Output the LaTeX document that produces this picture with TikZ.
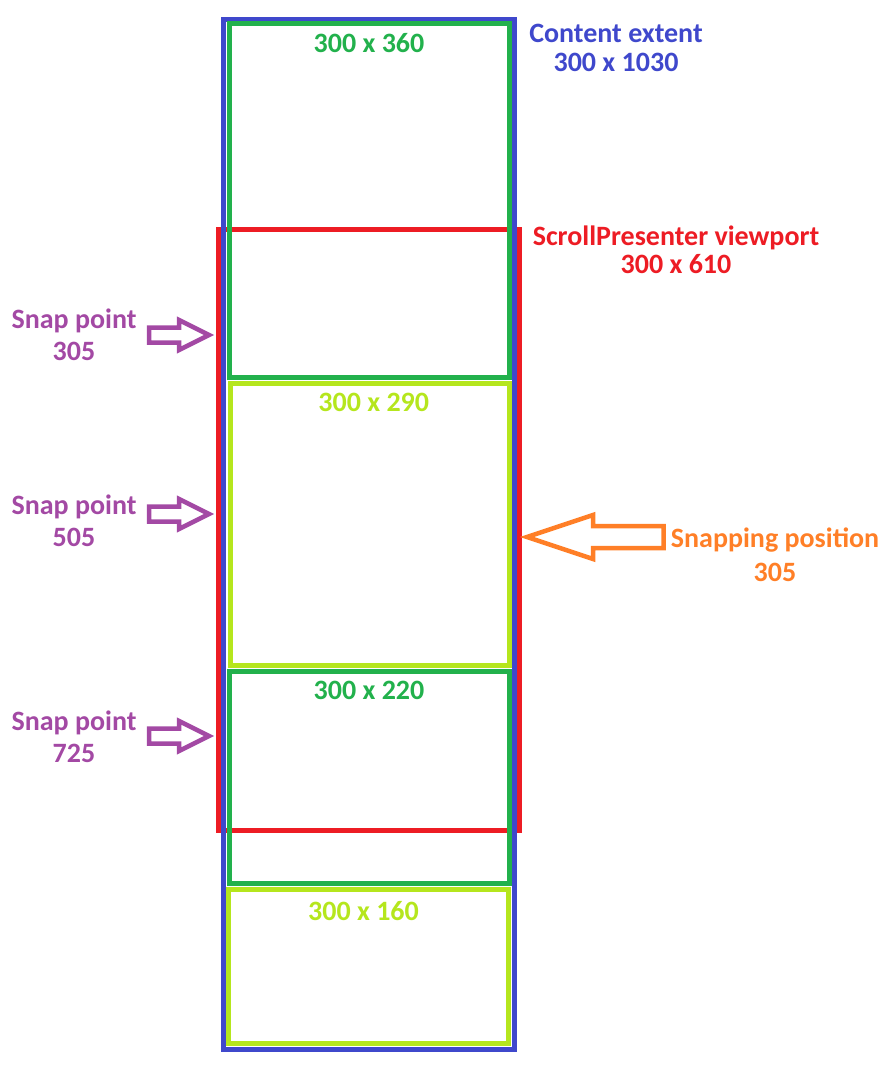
\documentclass[tikz,border=0pt]{standalone}
\usepackage{fontspec}
\setmainfont{Carlito}
\usepackage{xcolor}
\definecolor{contentblue}{RGB}{63,72,204}
\definecolor{viewred}{RGB}{237,28,36}
\definecolor{itemgreen}{RGB}{34,177,76}
\definecolor{itemlime}{RGB}{181,230,29}
\definecolor{snappurple}{RGB}{163,73,164}
\definecolor{snaporange}{RGB}{255,127,39}
\usepackage{tikz}
\usetikzlibrary{positioning}
\tikzset{
  box/.style={draw, line width=5pt, outer sep=0pt, inner sep=0pt, anchor=north west},
  lbl/.style={font=\fontsize{28}{32}\selectfont\bfseries, align=center, inner sep=0pt},
  blockarr/.style={line width=4.5pt}
}

\begin{document}
\begin{tikzpicture}[x=1pt, y=-1pt]
  \useasboundingbox (0,0) rectangle (894,1078);
  \node[box, draw=viewred, minimum width=300.5pt, minimum height=601.5pt] (viewport) at (218.5,229) {};
  \node[box, draw=contentblue, minimum width=290.5pt, minimum height=1029.5pt] (content) at (223.5,19.5) {};
  \node[box, draw=itemgreen, minimum width=280pt, minimum height=353pt] (item1) at (229,24) {};
  \node[box, draw=itemlime, minimum width=278.5pt, minimum height=282pt] (item2) at (230.5,383.5) {};
  \node[box, draw=itemgreen, minimum width=280pt, minimum height=212pt] (item3) at (229,671) {};
  \node[box, draw=itemlime, minimum width=280pt, minimum height=153.5pt] (item4) at (228.5,889.5) {};

  \node[lbl, text=itemgreen, anchor=base] (size1) at ([yshift=-29pt]item1.north) {300 x 360};
  \node[lbl, text=itemlime, anchor=base] (size2) at ([xshift=4pt, yshift=-27.5pt]item2.north) {300 x 290};
  \node[lbl, text=itemgreen, anchor=base] (size3) at ([yshift=-28pt]item3.north) {300 x 220};
  \node[lbl, text=itemlime, anchor=base] (size4) at ([xshift=-5pt, yshift=-30.5pt]item4.north) {300 x 160};

  \node[lbl, text=contentblue] (contentlbl) at (616,48) {Content extent\\[-3pt]300 x 1030};
  \node[lbl, text=viewred] (viewportlbl) at (676,249.5) {ScrollPresenter viewport\\[-4pt]300 x 610};

  \foreach \val/\ly/\ay in {305/335/335, 505/521/514, 725/737/736}{
    \node[lbl, text=snappurple] (snap\val) at (74,\ly) {Snap point\\\val};
    \coordinate (tip\val) at (209,\ay);
    \draw[blockarr, draw=snappurple] (tip\val) -- ++(-30,-15) -- ++(0,7.5) -- ++(-30,0) -- ++(0,15) -- ++(30,0) -- ++(0,7.5) -- cycle;
  }

  \node[lbl, text=snaporange] (snappinglbl) at (775,555) {Snapping position\\[2pt]305};
  \coordinate (snaptip) at (527,537);
  \draw[blockarr, draw=snaporange] (snaptip) -- ++(66,-22) -- ++(0,11) -- ++(70.7,0) -- ++(0,22) -- ++(-70.7,0) -- ++(0,11) -- cycle;
\end{tikzpicture}
\end{document}
